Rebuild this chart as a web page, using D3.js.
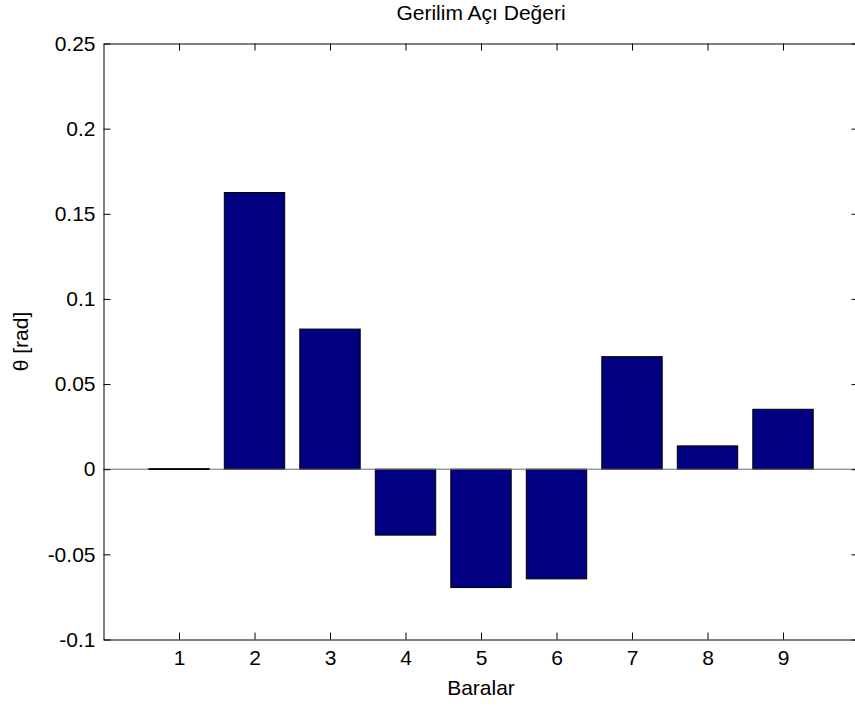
<!DOCTYPE html>
<html>
<head>
<meta charset="utf-8">
<script src="https://cdn.jsdelivr.net/npm/d3@7"></script>
<style>
  body { margin: 0; background: #fff; }
  svg { display: block; }
  text { font-family: "Liberation Sans", Arial, sans-serif; fill: #000; }
</style>
</head>
<body>
<script>
// data
var bars = [1, 2, 3, 4, 5, 6, 7, 8, 9]
var theta = [0.0003, 0.1625, 0.0823, -0.0387, -0.0695, -0.0644, 0.0661, 0.0137, 0.0352]
var yTicks = [-0.1, -0.05, 0, 0.05, 0.1, 0.15, 0.2, 0.25]
var yTickLabels = ["-0.1", "-0.05", "0", "0.05", "0.1", "0.15", "0.2", "0.25"]

var width = 855, height = 707
var margin = {top: 43.5, right: -3.5, bottom: 67.5, left: 103.5}
var plotW = width - margin.left - margin.right,
    plotH = height - margin.top - margin.bottom

var svg = d3.select("body")
            .append("svg")
            .attr("width", width)
            .attr("height", height)

var x = d3.scaleLinear().domain([0, 10]).range([margin.left, margin.left + plotW])
var y = d3.scaleLinear().domain([-0.1, 0.25]).range([margin.top + plotH, margin.top])

var barW = 0.8
var fontSize = "21px"

// bars
svg.selectAll("rect.bar")
    .data(theta)
    .enter()
    .append("rect")
    .attr("class", "bar")
    .attr("x", function(d, i){ return x(bars[i] - barW / 2) })
    .attr("y", function(d){ return Math.min(y(d), y(0)) })
    .attr("width", function(d){ return x(barW) - x(0) })
    .attr("height", function(d){ return Math.abs(y(d) - y(0)) })
    .style("fill", "#000080")
    .style("stroke", "#000")
    .style("stroke-width", 1)

// baseline at zero
svg.append("line")
    .attr("x1", x(0)).attr("x2", x(10))
    .attr("y1", y(0)).attr("y2", y(0))
    .style("stroke", "#6e6e6e")
    .style("stroke-width", 1)

// redraw the near-zero bar edge on top of the baseline
svg.append("line")
    .attr("x1", x(bars[0] - barW / 2)).attr("x2", x(bars[0] + barW / 2))
    .attr("y1", y(0)).attr("y2", y(0))
    .style("stroke", "#000")
    .style("stroke-width", 1.5)

// axes: left/bottom with labels, top/right mirrored ticks
var tickLen = 7
var axisLeft = d3.axisLeft(y).tickValues(yTicks)
    .tickFormat(function(d, i){ return yTickLabels[i] })
    .tickSizeInner(-tickLen).tickSizeOuter(0).tickPadding(8)
var axisBottom = d3.axisBottom(x).tickValues(bars)
    .tickFormat(d3.format("d"))
    .tickSizeInner(-tickLen).tickSizeOuter(0).tickPadding(11)
var axisTop = d3.axisTop(x).tickValues(bars).tickFormat("")
    .tickSizeInner(-tickLen).tickSizeOuter(0)
var axisRight = d3.axisRight(y).tickValues(yTicks).tickFormat("")
    .tickSizeInner(-tickLen).tickSizeOuter(0)

function styleAxis(g){
  g.selectAll("path").style("stroke", "#000").style("stroke-width", 1)
  g.selectAll("line").style("stroke", "#000").style("stroke-width", 1)
  g.selectAll("text").style("font-size", fontSize).style("font-family", "'Liberation Sans', Arial, sans-serif").style("fill", "#000")
}

svg.append("g").attr("transform", "translate(" + margin.left + ",0)").call(axisLeft).call(styleAxis)
svg.append("g").attr("transform", "translate(0," + (margin.top + plotH) + ")").call(axisBottom).call(styleAxis)
svg.append("g").attr("transform", "translate(0," + margin.top + ")").call(axisTop).call(styleAxis)
svg.append("g").attr("transform", "translate(" + (margin.left + plotW) + ",0)").call(axisRight).call(styleAxis)

// title and labels
var cx = margin.left + plotW / 2
svg.append("text")
    .attr("x", cx).attr("y", 20)
    .attr("text-anchor", "middle")
    .style("font-size", fontSize)
    .text("Gerilim Açı Değeri")

svg.append("text")
    .attr("x", cx).attr("y", 695)
    .attr("text-anchor", "middle")
    .style("font-size", fontSize)
    .text("Baralar")

svg.append("text")
    .attr("transform", "translate(28," + (margin.top + plotH / 2) + ") rotate(-90)")
    .attr("text-anchor", "middle")
    .style("font-size", fontSize)
    .text("θ [rad]")
</script>
</body>
</html>
